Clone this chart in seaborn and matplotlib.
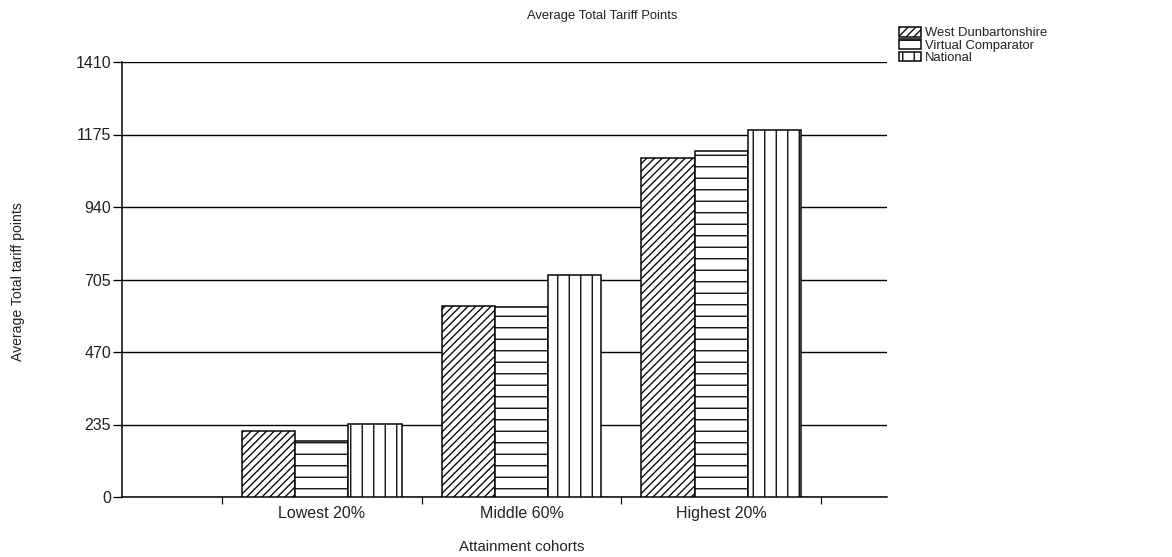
import matplotlib
matplotlib.use("Agg")
import matplotlib.pyplot as plt
import matplotlib.transforms as mtransforms
import seaborn as sns
import pandas as pd

# Average total tariff points by attainment cohort
cohorts = ["Lowest 20%", "Middle 60%", "Highest 20%"]
series = ["West Dunbartonshire", "Virtual Comparator", "National"]
west_dunbartonshire = [215, 620, 1098]
virtual_comparator = [180, 615, 1121]
national = [236, 720, 1190]
y_ticks = [0, 235, 470, 705, 940, 1175, 1410]

DPI = 138
W, H = 1172, 557


def px(v):
    """Convert a size in pixels to points at the output resolution."""
    return v * 72.0 / DPI


sns.set_theme(style="white")
plt.rcParams["font.family"] = ["Liberation Sans", "DejaVu Sans"]
plt.rcParams["hatch.linewidth"] = px(1.3)
plt.rcParams["hatch.color"] = "black"

df = pd.DataFrame({
    "cohort": cohorts * 3,
    "series": [series[0]] * 3 + [series[1]] * 3 + [series[2]] * 3,
    "points": west_dunbartonshire + virtual_comparator + national,
})

fig = plt.figure(figsize=(W / DPI, H / DPI), dpi=DPI)
ax = fig.add_axes([122 / W, 1 - 497 / H, (887 - 122) / W, (497 - 62) / H])

sns.barplot(data=df, x="cohort", y="points", hue="series", order=cohorts,
            hue_order=series, palette=["white"] * 3,
            width=0.8, edgecolor="black", linewidth=px(1.5), ax=ax,
            legend=False, zorder=3)

# diagonal, horizontal and vertical line fills
hatches = ["//////", "--", "||"]
for container, hatch in zip(ax.containers, hatches):
    for bar in container:
        bar.set_hatch(hatch)
        bar.set_facecolor("white")
        bar.set_edgecolor("black")

# Axes limits and grid
ax.set_ylim(0, 1410)
ax.set_xlim(-1.0, 2.83)
ax.set_yticks(y_ticks)
ax.set_yticklabels([str(t) for t in y_ticks])
ax.yaxis.grid(True, color="black", linewidth=px(1.4), zorder=0)
ax.xaxis.grid(False)
ax.set_axisbelow(True)

for side in ["top", "right"]:
    ax.spines[side].set_visible(False)
for side in ["left", "bottom"]:
    ax.spines[side].set_visible(True)
    ax.spines[side].set_color("black")
    ax.spines[side].set_linewidth(px(1.5))

ax.tick_params(axis="y", which="major", direction="out", length=px(9),
               width=px(1.3), color="black", left=True,
               labelsize=px(16), labelcolor="#222222", pad=px(2))
ax.set_xticks([0, 1, 2])
ax.set_xticklabels(cohorts)
ax.set_xticks([-0.5, 0.5, 1.5, 2.5], minor=True)
ax.tick_params(axis="x", which="major", length=0, labelsize=px(16),
               labelcolor="#222222", pad=px(9))
ax.tick_params(axis="x", which="minor", direction="out", length=px(7),
               width=px(1.2), color="black", bottom=True)

ax.set_xlabel("")
ax.set_ylabel("")

# Titles and axis captions
fig.text(602 / W, 1 - 16 / H, "Average Total Tariff Points", ha="center",
         va="center", fontsize=px(13), color="#222222")
fig.text(18 / W, 1 - 282 / H, "Average Total tariff points", ha="center",
         va="center", rotation=90, fontsize=px(14), color="#222222")
trans = mtransforms.blended_transform_factory(ax.transData, fig.transFigure)
ax.text(1, 1 - 547 / H, "Attainment cohorts", transform=trans, ha="center",
        va="center", fontsize=px(15), color="#222222")

handles = [container.patches[0] for container in ax.containers]
leg = fig.legend(handles, series, loc="upper left",
                 bbox_to_anchor=(899 / W, 1 - 27 / H), frameon=False,
                 fontsize=px(13), handlelength=1.7, handleheight=0.75,
                 handletextpad=0.3, labelspacing=0.0, borderpad=0,
                 borderaxespad=0)
for t in leg.get_texts():
    t.set_color("#222222")

fig.savefig("out.png", dpi=DPI, facecolor="white")
